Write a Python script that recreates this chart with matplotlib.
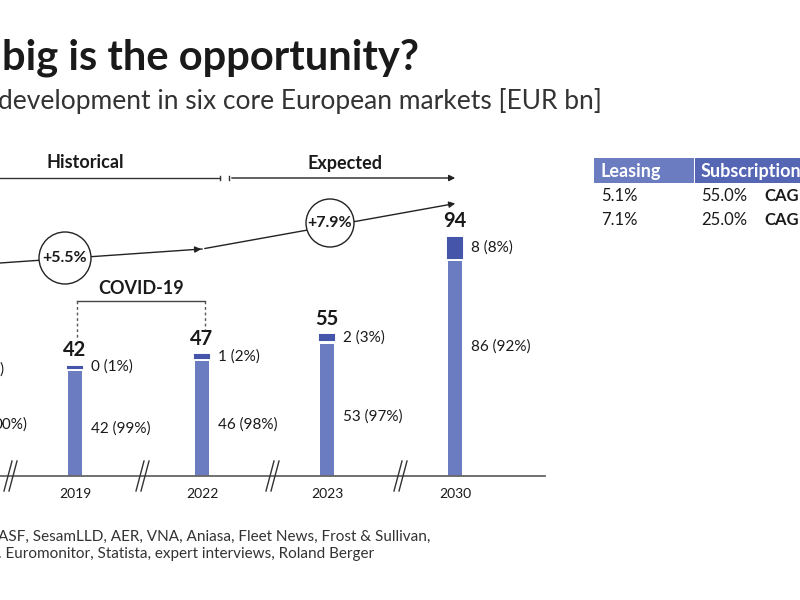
import matplotlib.pyplot as plt
from matplotlib.patches import Circle, Rectangle

plt.rcParams["font.family"] = "Lato"

# -----------------------------
# DATA
# -----------------------------
years = ["2019", "2022", "2023", "2030"]
leasing = [42, 46, 53, 86]
subscription = [0.4, 1, 2, 8]
totals = ["42", "47", "55", "94"]
leasing_labels = ["42 (99%)", "46 (98%)", "53 (97%)", "86 (92%)"]
sub_labels = ["0 (1%)", "1 (2%)", "2 (3%)", "8 (8%)"]
cagr_hist = "+5.5%"
cagr_exp = "+7.9%"
table_cols = ["Leasing", "Subscription"]
table_rows = [["5.1%", "55.0%"], ["7.1%", "25.0%"]]

# -----------------------------
# LAYOUT
# -----------------------------
W, H = 800, 600
BASE_Y = 476          # baseline in pixels
PX_PER_UNIT = 2.5
bar_x = [75, 202, 327, 455]
BAR_W = 14
GAP = 1.4
C_MAIN = "#6b7cc0"
C_SUB = "#4556aa"
C_TXT = "#1a1a1a"

fig = plt.figure(figsize=(8, 6), dpi=100)
# bar axes: x in pixels, y in EUR bn
ax = fig.add_axes([0, 0, 1, 1])
ax.set_xlim(0, W)
ax.set_ylim(-(H - BASE_Y) / PX_PER_UNIT, BASE_Y / PX_PER_UNIT)
ax.axis("off")
# overlay axes in pixel coords (y down) for annotations
ov = fig.add_axes([0, 0, 1, 1], facecolor="none")
ov.set_xlim(0, W)
ov.set_ylim(H, 0)
ov.axis("off")

ax.bar(bar_x, leasing, width=BAR_W, color=C_MAIN)
sub_bottom = [v + GAP for v in leasing]
ax.bar(bar_x, subscription, width=BAR_W, bottom=sub_bottom, color=C_SUB,
       edgecolor=C_SUB, linewidth=1.5)

for i, x in enumerate(bar_x):
    top = sub_bottom[i] + subscription[i]
    ax.text(x, top + 2.5, totals[i], ha="center", va="bottom",
            fontsize=14.5, fontweight="bold", color=C_TXT)
    ax.text(x + 16, sub_bottom[i] + subscription[i] / 2, sub_labels[i],
            ha="left", va="center", fontsize=11, color=C_TXT)
    ax.text(x + 16, leasing[i] * 0.45 if i < 3 else leasing[i] * 0.6,
            leasing_labels[i], ha="left", va="center", fontsize=11, color=C_TXT)
    ov.text(x, 494, years[i], ha="center", va="center", fontsize=10, color=C_TXT)

# cropped left bar labels
ov.text(4, 370, ")", ha="right", va="center", fontsize=11, color=C_TXT)
ov.text(27, 425, "00%)", ha="right", va="center", fontsize=11, color=C_TXT)

# baseline and breaks
ov.plot([0, 545], [BASE_Y, BASE_Y], color="#666666", lw=1.3)
for bx in [8, 140, 270, 398]:
    for dx in (0, 5):
        ov.plot([bx + dx - 4, bx + dx + 4], [BASE_Y + 15, BASE_Y - 15], color="#333333", lw=1)

# Historical / Expected
ov.plot([0, 220], [178, 178], color="#333333", lw=1)
ov.plot([220, 220], [176, 180], color="#333333", lw=1)
ov.annotate("", xy=(458, 178), xytext=(229, 178),
            arrowprops=dict(arrowstyle="-|>", color="#222222", lw=1, mutation_scale=9))
ov.plot([229, 229], [176, 180], color="#333333", lw=1)
ov.text(85, 163, "Historical", ha="center", va="center", fontsize=13, fontweight="bold", color=C_TXT)
ov.text(345, 163, "Expected", ha="center", va="center", fontsize=13, fontweight="bold", color=C_TXT)

# CAGR path
ov.plot([0, 202], [263, 249], color="#222222", lw=1)
ov.annotate("", xy=(204, 249), xytext=(195, 249.5),
            arrowprops=dict(arrowstyle="-|>", color="#222222", lw=1, mutation_scale=9))
ov.annotate("", xy=(458, 203), xytext=(202, 249),
            arrowprops=dict(arrowstyle="-|>", color="#222222", lw=1, mutation_scale=9))
for (cx, cy, r, lab) in [(65, 258, 26, cagr_hist), (330, 223, 24, cagr_exp)]:
    ov.add_patch(Circle((cx, cy), r, facecolor="white", edgecolor="#222222", lw=1, zorder=3))
    ov.text(cx, cy, lab, ha="center", va="center", fontsize=11.5, fontweight="bold",
            color=C_TXT, zorder=4)

# COVID bracket
ov.plot([77, 205], [301, 301], color="#444444", lw=1)
ov.plot([77, 77], [301, 340], color="#555555", lw=1, ls=(0, (2, 2)))
ov.plot([205, 205], [301, 330], color="#555555", lw=1, ls=(0, (2, 2)))
ov.text(141, 289, "COVID-19", ha="center", va="center", fontsize=13, fontweight="bold", color=C_TXT)

# Titles
ov.text(2, 58, "big is the opportunity?", ha="left", va="center", fontsize=30,
        fontweight="bold", color=C_TXT)
ov.text(-2, 101, "development in six core European markets [EUR bn]", ha="left",
        va="center", fontsize=19, color="#333333")

# Source
ov.text(-2, 537, "ASF, SesamLLD, AER, VNA, Aniasa, Fleet News, Frost & Sullivan,",
        ha="left", va="center", fontsize=11, color="#333333")
ov.text(-2, 554, ". Euromonitor, Statista, expert interviews, Roland Berger",
        ha="left", va="center", fontsize=11, color="#333333")

# Table
ov.add_patch(Rectangle((594, 158), 100, 25, color="#6b7cc0", lw=0))
ov.add_patch(Rectangle((695, 158), 110, 25, color="#5566b5", lw=0))
ov.text(601, 171, table_cols[0], ha="left", va="center", fontsize=13,
        fontweight="bold", color="white")
ov.text(701, 171, table_cols[1], ha="left", va="center", fontsize=13,
        fontweight="bold", color="white")
for j, row in enumerate(table_rows):
    y = 196 + j * 24
    ov.text(601, y, row[0], ha="left", va="center", fontsize=12, color=C_TXT)
    ov.text(701, y, row[1], ha="left", va="center", fontsize=12, color=C_TXT)
    ov.text(764, y, "CAGR", ha="left", va="center", fontsize=12, fontweight="bold", color=C_TXT)

fig.savefig("out.png", dpi=100)
